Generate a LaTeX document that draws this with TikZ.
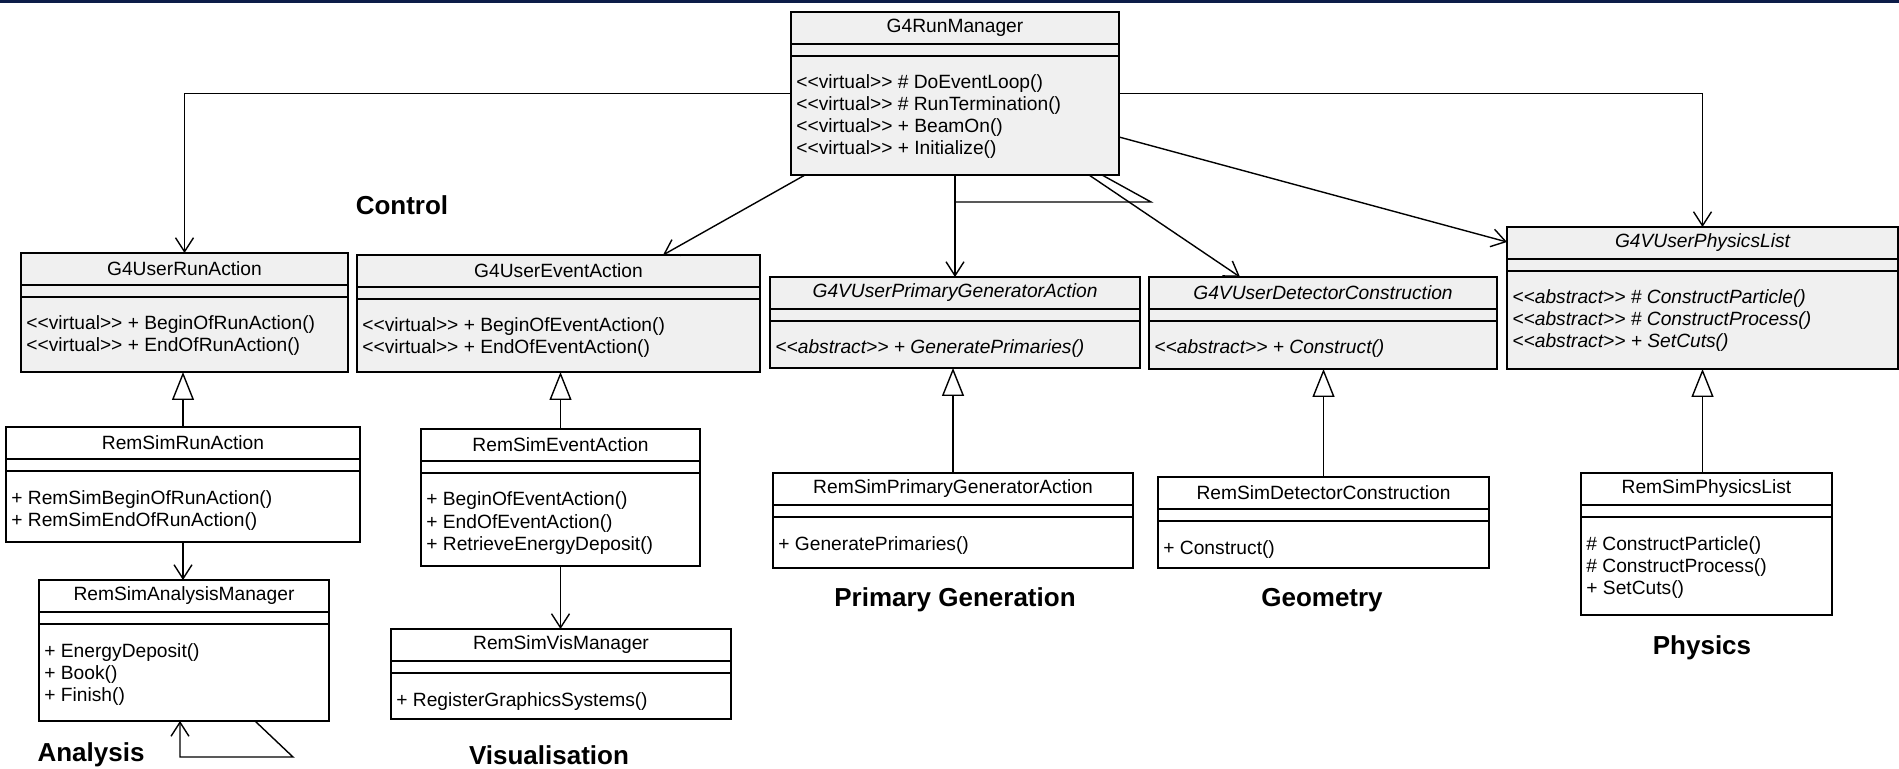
\documentclass[tikz,border=0pt]{standalone}
\usepackage{fontspec}
\setmainfont{Liberation Sans}
\usetikzlibrary{arrows.meta,calc,fit}

\definecolor{boxgray}{RGB}{240,240,240}
\definecolor{navybar}{RGB}{12,28,72}

\tikzset{
  umlbox/.style={draw, line width=1pt, inner sep=0pt, outer sep=0pt},
  clsname/.style={font=\fontsize{9.6}{11}\selectfont, inner sep=0pt},
  meth/.style={font=\fontsize{9.6}{11}\selectfont, anchor=base west, inner sep=0pt},
  assoc/.style={line width=0.7pt, -{Straight Barb[length=7pt,width=9pt,line width=0.7pt]}},
  inherit/.style={line width=0.7pt, -{Triangle[open,length=14pt,width=11pt,line width=0.7pt]}},
  pkg/.style={font=\fontsize{13}{15}\selectfont\bfseries, inner sep=0pt}
}

\newcommand{\stereo}[1]{<\kern0pt<#1>\kern0pt>}

% \umlclass[fill]{name}{x1}{y1}{x2}{y2}{title}{methods}{shape}
\newcommand{\umlclass}[9][white]{%
  \node[umlbox, fill=#1, fit={(#3,#4) (#5,#6)}] (#2) {};
  \node[clsname] at ($(#2.north)+(0,16)$) {#9#7};
  \draw[line width=1.2pt] ($(#2.north west)+(0,32)$) -- ($(#2.north east)+(0,32)$);
  \draw[line width=0.6pt] ($(#2.north west)+(0,44)$) -- ($(#2.north east)+(0,44)$);
  \foreach \m [count=\i from 0] in {#8}
    \node[meth] at ($(#2.north west)+(5,77+22*\i)$) {#9\m};
}

\begin{document}
\begin{tikzpicture}[x=0.5pt,y=-0.5pt]

  \useasboundingbox (0,0) rectangle (1899,769);
  \fill[white] (0,0) rectangle (1899,769);
  \fill[navybar] (0,0) rectangle (1899,3); % top bar

  % base classes
  \umlclass[boxgray]{runmgr}{791}{12}{1119}{175}{G4RunManager}
    {\stereo{virtual} \# DoEventLoop(), \stereo{virtual} \# RunTermination(), \stereo{virtual} + BeamOn(), \stereo{virtual} + Initialize()}{\upshape}
  \umlclass[boxgray]{runact}{21}{253}{348}{372}{G4UserRunAction}
    {\stereo{virtual} + BeginOfRunAction(), \stereo{virtual} + EndOfRunAction()}{\upshape}
  \umlclass[boxgray]{evtact}{357}{255}{760}{372}{G4UserEventAction}
    {\stereo{virtual} + BeginOfEventAction(), \stereo{virtual} + EndOfEventAction()}{\upshape}
  \umlclass[boxgray]{primgen}{770}{277}{1140}{368}{G4VUserPrimaryGeneratorAction}
    {\stereo{abstract} + GeneratePrimaries()}{\itshape}
  \umlclass[boxgray]{detcon}{1149}{277}{1497}{369}{G4VUserDetectorConstruction}
    {\stereo{abstract} + Construct()}{\itshape}
  \umlclass[boxgray]{physlist}{1507}{227}{1898}{369}{G4VUserPhysicsList}
    {\stereo{abstract} \# ConstructParticle(), \stereo{abstract} \# ConstructProcess(), \stereo{abstract} + SetCuts()}{\itshape}

  % user classes
  \umlclass{remrun}{6}{427}{360}{542}{RemSimRunAction}
    {+ RemSimBeginOfRunAction(), + RemSimEndOfRunAction()}{\upshape}
  \umlclass{remevt}{421}{429}{700}{566}{RemSimEventAction}
    {+ BeginOfEventAction(), + EndOfEventAction(), + RetrieveEnergyDeposit()}{\upshape}
  \umlclass{anamgr}{39}{580}{329}{721}{RemSimAnalysisManager}
    {+ EnergyDeposit(), + Book(), + Finish()}{\upshape}
  \umlclass{vismgr}{391}{629}{731}{719}{RemSimVisManager}
    {+ RegisterGraphicsSystems()}{\upshape}
  \umlclass{remprim}{773}{473}{1133}{568}{RemSimPrimaryGeneratorAction}
    {+ GeneratePrimaries()}{\upshape}
  \umlclass{remdet}{1158}{477}{1489}{568}{RemSimDetectorConstruction}
    {+ Construct()}{\upshape}
  \umlclass{remphys}{1581}{473}{1832}{615}{RemSimPhysicsList}
    {\# ConstructParticle(), \# ConstructProcess(), + SetCuts()}{\upshape}

  % associations
  \draw[assoc] (runmgr.west) -| (runact.north);
  \draw[assoc] (runmgr.east) -| (physlist.north);
  \draw[assoc] ($(runmgr.south west)+(14,0)$) -- ($(evtact.north west)+(306,0)$);
  \draw[assoc] (runmgr.south) -- (primgen.north);
  \draw[line width=0.7pt] ($(runmgr.south)+(0,27)$) -- ++(196,0) -- ($(runmgr.south east)+(-17,0)$);
  \draw[assoc] ($(runmgr.south east)+(-30,0)$) -- ($(detcon.north west)+(91,0)$);
  \draw[assoc] ($(runmgr.south east)+(0,-38)$) -- ($(physlist.north west)+(0,15)$);
  \draw[assoc] (remrun.south) -- (remrun.south |- anamgr.north);
  \draw[assoc] (remevt.south) -- (remevt.south |- vismgr.north);
  \draw[assoc] ($(anamgr.south west)+(216,0)$) -- ++(38,36) -- ++(-113,0) -- ($(anamgr.south west)+(141,0)$);

  % generalisations
  \draw[inherit] (remrun.north) -- (remrun.north |- runact.south);
  \draw[inherit] (remevt.north) -- (remevt.north |- evtact.south);
  \draw[inherit] (remprim.north) -- (remprim.north |- primgen.south);
  \draw[inherit] (remdet.north) -- (remdet.north |- detcon.south);
  \draw[inherit] (remphys.north -| physlist.south) -- (physlist.south);

  % package labels
  \node[pkg] (ctrl) at (402,205) {Control};
  \node[pkg] (ana) at (91,755) {Analysis};
  \node[pkg] (vis) at (549,755) {Visualisation};
  \node[pkg] (prim) at (955,600) {Primary Generation};
  \node[pkg] (geom) at (1322,600) {Geometry};
  \node[pkg] (phys) at (1702,648) {Physics};

\end{tikzpicture}
\end{document}
